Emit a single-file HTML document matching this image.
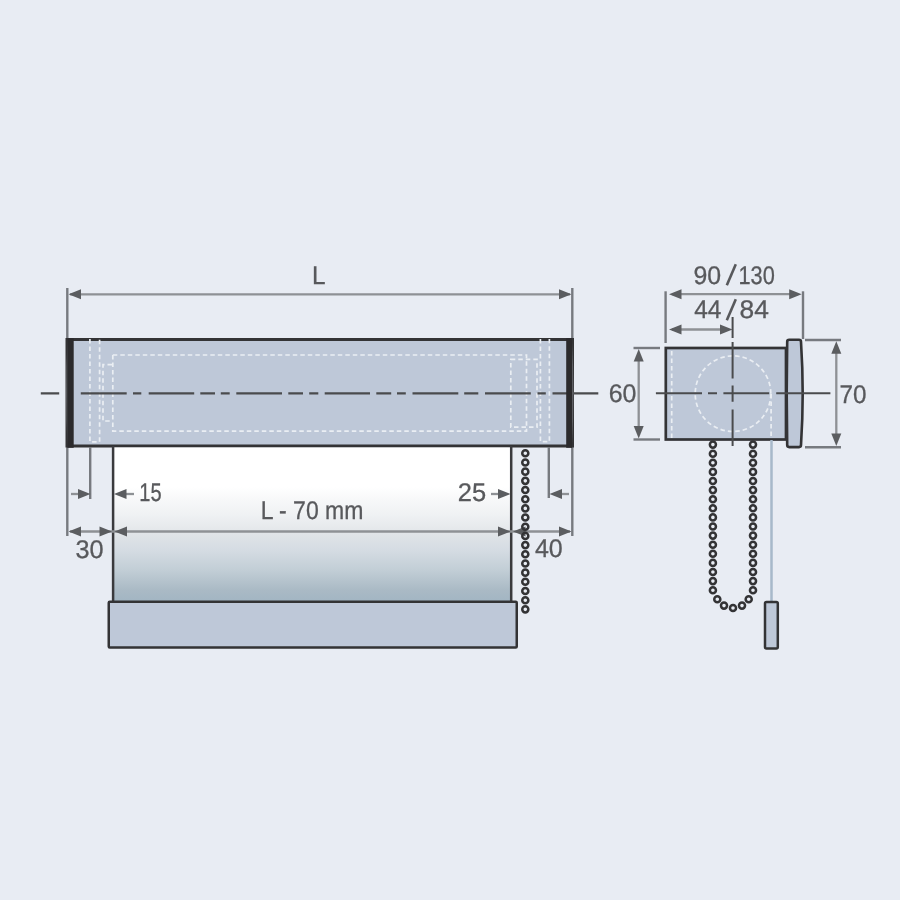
<!DOCTYPE html>
<html><head><meta charset="utf-8"><style>
html,body{margin:0;padding:0;background:#e8ecf3;}
svg{display:block;will-change:transform;text-rendering:geometricPrecision;}
text{font-family:"Liberation Sans", sans-serif;}
</style></head><body>
<svg width="900" height="900" viewBox="0 0 900 900">
<rect width="900" height="900" fill="#e8ecf3"/>
<line x1="67.30" y1="288.00" x2="67.30" y2="536.00" stroke="#777a7f" stroke-width="2.40" />
<line x1="572.30" y1="288.00" x2="572.30" y2="536.00" stroke="#777a7f" stroke-width="2.40" />
<line x1="70.00" y1="294.30" x2="570.00" y2="294.30" stroke="#8e9195" stroke-width="2.30" />
<polygon points="68.50,294.30 81.00,289.30 81.00,299.30" fill="#5b5d60"/>
<polygon points="571.50,294.30 559.00,289.30 559.00,299.30" fill="#5b5d60"/>
<rect x="67" y="339.5" width="505.5" height="106.5" fill="#bec8d8" stroke="#333335" stroke-width="3"/>
<path d="M89.9 339 V441.8 H99.6 V339" stroke="#eaeef3" stroke-width="1.7" stroke-dasharray="4.5 3" fill="none"/>
<path d="M112 364.7 H103 V421 H112" stroke="#eaeef3" stroke-width="1.7" stroke-dasharray="4.5 3" fill="none"/>
<rect x="112.8" y="355" width="413.7" height="76.1" stroke="#eaeef3" stroke-width="1.7" stroke-dasharray="4.5 3" fill="none"/>
<rect x="510.8" y="359.4" width="26.2" height="67.8" stroke="#eaeef3" stroke-width="1.7" stroke-dasharray="4.5 3" fill="none"/>
<path d="M540.4 339 V441.6 H549.4 V339" stroke="#eaeef3" stroke-width="1.7" stroke-dasharray="4.5 3" fill="none"/>
<path d="M40.8 393.3 H59.2 M80.8 393.3 H126.7 M133.0 393.3 H141.3 M148.7 393.3 H194.2 M200.3 393.3 H215.0 M220.8 393.3 H229.7 M236.3 393.3 H282.0 M288.3 393.3 H303.0 M309.2 393.3 H318.3 M324.7 393.3 H370.0 M376.3 393.3 H391.2 M397.0 393.3 H405.8 M412.5 393.3 H458.3 M464.2 393.3 H478.3 M485.0 393.3 H530.8 M537.5 393.3 H545.8 M552.5 393.3 H598.3" stroke="#4a4b4d" stroke-width="2.2" fill="none"/>
<path d="M67.6 338.2 Q64.6 393 67.6 447.8 Z" fill="#5d5e62"/>
<rect x="67.4" y="338.2" width="6.3" height="109.6" fill="#2b2a2c"/>
<path d="M571.8 338.2 Q575.2 393 571.8 447.8 Z" fill="#5d5e62"/>
<rect x="566.2" y="338.2" width="5.8" height="109.6" fill="#2b2a2c"/>
<defs><linearGradient id="fab" x1="0" y1="0" x2="0" y2="1">
<stop offset="0" stop-color="#ffffff"/><stop offset="0.256" stop-color="#ffffff"/>
<stop offset="0.341" stop-color="#f7f8f9"/><stop offset="0.438" stop-color="#eff1f3"/><stop offset="0.523" stop-color="#e6e9ec"/>
<stop offset="0.568" stop-color="#dfe3e7"/><stop offset="0.665" stop-color="#d5dce3"/><stop offset="0.795" stop-color="#c2ced6"/>
<stop offset="0.925" stop-color="#aabac5"/><stop offset="1" stop-color="#a2b5c3"/></linearGradient></defs>
<rect x="113" y="447.5" width="398" height="154" fill="url(#fab)"/>
<line x1="113.10" y1="446.00" x2="113.10" y2="602.00" stroke="#3a3a3d" stroke-width="2.50" />
<line x1="511.20" y1="446.00" x2="511.20" y2="602.00" stroke="#3a3a3d" stroke-width="2.50" />
<rect x="108.75" y="601.75" width="408" height="45.75" rx="1" fill="#bec8d8" stroke="#333335" stroke-width="2.5"/>
<line x1="90.20" y1="447.00" x2="90.20" y2="499.00" stroke="#777a7f" stroke-width="2.40" />
<line x1="548.80" y1="447.00" x2="548.80" y2="498.00" stroke="#777a7f" stroke-width="2.40" />
<line x1="71.00" y1="494.00" x2="80.00" y2="494.00" stroke="#8e9195" stroke-width="2.30" />
<polygon points="90.50,494.00 78.00,489.00 78.00,499.00" fill="#5b5d60"/>
<line x1="124.00" y1="494.00" x2="134.00" y2="494.00" stroke="#8e9195" stroke-width="2.30" />
<polygon points="114.00,494.00 126.50,489.00 126.50,499.00" fill="#5b5d60"/>
<line x1="491.00" y1="494.00" x2="500.00" y2="494.00" stroke="#8e9195" stroke-width="2.30" />
<polygon points="510.50,494.00 498.00,489.00 498.00,499.00" fill="#5b5d60"/>
<line x1="559.00" y1="494.00" x2="569.00" y2="494.00" stroke="#8e9195" stroke-width="2.30" />
<polygon points="549.50,494.00 562.00,489.00 562.00,499.00" fill="#5b5d60"/>
<line x1="70.00" y1="531.50" x2="570.00" y2="531.50" stroke="#8e9195" stroke-width="2.30" />
<polygon points="68.50,531.50 81.00,526.50 81.00,536.50" fill="#5b5d60"/>
<polygon points="112.00,531.50 99.50,526.50 99.50,536.50" fill="#5b5d60"/>
<polygon points="114.50,531.50 127.00,526.50 127.00,536.50" fill="#5b5d60"/>
<polygon points="510.50,531.50 498.00,526.50 498.00,536.50" fill="#5b5d60"/>
<polygon points="513.00,531.50 525.50,526.50 525.50,536.50" fill="#5b5d60"/>
<polygon points="571.50,531.50 559.00,526.50 559.00,536.50" fill="#5b5d60"/>
<circle cx="525.30" cy="453.30" r="3.05" fill="none" stroke="#333335" stroke-width="2.50"/>
<circle cx="525.30" cy="462.48" r="3.05" fill="none" stroke="#333335" stroke-width="2.50"/>
<circle cx="525.30" cy="471.66" r="3.05" fill="none" stroke="#333335" stroke-width="2.50"/>
<circle cx="525.30" cy="480.84" r="3.05" fill="none" stroke="#333335" stroke-width="2.50"/>
<circle cx="525.30" cy="490.02" r="3.05" fill="none" stroke="#333335" stroke-width="2.50"/>
<circle cx="525.30" cy="499.20" r="3.05" fill="none" stroke="#333335" stroke-width="2.50"/>
<circle cx="525.30" cy="508.38" r="3.05" fill="none" stroke="#333335" stroke-width="2.50"/>
<circle cx="525.30" cy="517.56" r="3.05" fill="none" stroke="#333335" stroke-width="2.50"/>
<circle cx="525.30" cy="526.74" r="3.05" fill="none" stroke="#333335" stroke-width="2.50"/>
<circle cx="525.30" cy="535.92" r="3.05" fill="none" stroke="#333335" stroke-width="2.50"/>
<circle cx="525.30" cy="545.10" r="3.05" fill="none" stroke="#333335" stroke-width="2.50"/>
<circle cx="525.30" cy="554.28" r="3.05" fill="none" stroke="#333335" stroke-width="2.50"/>
<circle cx="525.30" cy="563.46" r="3.05" fill="none" stroke="#333335" stroke-width="2.50"/>
<circle cx="525.30" cy="572.64" r="3.05" fill="none" stroke="#333335" stroke-width="2.50"/>
<circle cx="525.30" cy="581.82" r="3.05" fill="none" stroke="#333335" stroke-width="2.50"/>
<circle cx="525.30" cy="591.00" r="3.05" fill="none" stroke="#333335" stroke-width="2.50"/>
<circle cx="525.30" cy="600.18" r="3.05" fill="none" stroke="#333335" stroke-width="2.50"/>
<circle cx="525.30" cy="609.36" r="3.05" fill="none" stroke="#333335" stroke-width="2.50"/>
<line x1="665.60" y1="291.30" x2="665.60" y2="343.00" stroke="#777a7f" stroke-width="2.40" />
<line x1="803.00" y1="291.30" x2="803.00" y2="339.00" stroke="#777a7f" stroke-width="2.40" />
<line x1="672.00" y1="294.20" x2="798.00" y2="294.20" stroke="#8e9195" stroke-width="2.30" />
<polygon points="669.00,294.20 681.50,289.20 681.50,299.20" fill="#5b5d60"/>
<polygon points="801.70,294.20 789.20,289.20 789.20,299.20" fill="#5b5d60"/>
<line x1="672.00" y1="329.50" x2="729.00" y2="329.50" stroke="#8e9195" stroke-width="2.30" />
<polygon points="669.00,329.50 681.50,324.50 681.50,334.50" fill="#5b5d60"/>
<polygon points="732.50,329.50 720.00,324.50 720.00,334.50" fill="#5b5d60"/>
<rect x="665.8" y="348" width="120.2" height="91.5" fill="#bec8d8" stroke="#333335" stroke-width="2.7"/>
<line x1="671.7" y1="351" x2="671.7" y2="438" stroke="#eaeef3" stroke-width="1.7" stroke-dasharray="4.5 3" fill="none"/>
<circle cx="733" cy="393.7" r="37.8" stroke="#eaeef3" stroke-width="1.7" stroke-dasharray="4.5 3" fill="none"/>
<line x1="771.1" y1="394" x2="771.1" y2="438" stroke="#eaeef3" stroke-width="1.7" stroke-dasharray="4.5 3" fill="none"/>
<path d="M789.2 339.8 H799 Q801 339.8 801 341.8 Q804.4 393.5 801 445.1 Q801 447.1 799 447.1 H789.2 Q787.2 447.1 787.2 445.1 Q786.2 393.5 787.2 341.8 Q787.2 339.8 789.2 339.8 Z" fill="#bec8d8" stroke="#333335" stroke-width="2.6"/>
<path d="M655.9 393.2 H702 M708 393.2 H717 M723.4 393.2 H769.2 M776.2 393.2 H830.4" stroke="#4a4b4d" stroke-width="2" fill="none"/>
<path d="M732.6 317 V338 M732.6 341.9 V378.4 M732.6 385.4 V401.8 M732.6 409.5 V446" stroke="#4a4b4d" stroke-width="2" fill="none"/>
<line x1="633.50" y1="348.00" x2="660.00" y2="348.00" stroke="#777a7f" stroke-width="2.40" />
<line x1="633.50" y1="439.50" x2="660.00" y2="439.50" stroke="#777a7f" stroke-width="2.40" />
<line x1="638.70" y1="355.00" x2="638.70" y2="432.00" stroke="#8e9195" stroke-width="2.30" />
<polygon points="638.70,349.00 633.70,361.50 643.70,361.50" fill="#5b5d60"/>
<polygon points="638.70,438.50 633.70,426.00 643.70,426.00" fill="#5b5d60"/>
<line x1="805.00" y1="340.00" x2="841.00" y2="340.00" stroke="#777a7f" stroke-width="2.40" />
<line x1="805.00" y1="447.20" x2="841.00" y2="447.20" stroke="#777a7f" stroke-width="2.40" />
<line x1="836.30" y1="347.00" x2="836.30" y2="440.00" stroke="#8e9195" stroke-width="2.30" />
<polygon points="836.30,341.20 831.30,353.70 841.30,353.70" fill="#5b5d60"/>
<polygon points="836.30,446.00 831.30,433.50 841.30,433.50" fill="#5b5d60"/>
<line x1="771.50" y1="440.00" x2="771.50" y2="602.00" stroke="#a7b9ca" stroke-width="2.50" />
<rect x="765" y="602" width="12.8" height="46.5" rx="1.5" fill="#bec8d8" stroke="#333335" stroke-width="2.5"/>
<circle cx="712.90" cy="444.60" r="3.05" fill="none" stroke="#333335" stroke-width="2.50"/>
<circle cx="753.00" cy="444.60" r="3.05" fill="none" stroke="#333335" stroke-width="2.50"/>
<circle cx="712.90" cy="453.70" r="3.05" fill="none" stroke="#333335" stroke-width="2.50"/>
<circle cx="753.00" cy="453.70" r="3.05" fill="none" stroke="#333335" stroke-width="2.50"/>
<circle cx="712.90" cy="462.80" r="3.05" fill="none" stroke="#333335" stroke-width="2.50"/>
<circle cx="753.00" cy="462.80" r="3.05" fill="none" stroke="#333335" stroke-width="2.50"/>
<circle cx="712.90" cy="471.90" r="3.05" fill="none" stroke="#333335" stroke-width="2.50"/>
<circle cx="753.00" cy="471.90" r="3.05" fill="none" stroke="#333335" stroke-width="2.50"/>
<circle cx="712.90" cy="481.00" r="3.05" fill="none" stroke="#333335" stroke-width="2.50"/>
<circle cx="753.00" cy="481.00" r="3.05" fill="none" stroke="#333335" stroke-width="2.50"/>
<circle cx="712.90" cy="490.10" r="3.05" fill="none" stroke="#333335" stroke-width="2.50"/>
<circle cx="753.00" cy="490.10" r="3.05" fill="none" stroke="#333335" stroke-width="2.50"/>
<circle cx="712.90" cy="499.20" r="3.05" fill="none" stroke="#333335" stroke-width="2.50"/>
<circle cx="753.00" cy="499.20" r="3.05" fill="none" stroke="#333335" stroke-width="2.50"/>
<circle cx="712.90" cy="508.30" r="3.05" fill="none" stroke="#333335" stroke-width="2.50"/>
<circle cx="753.00" cy="508.30" r="3.05" fill="none" stroke="#333335" stroke-width="2.50"/>
<circle cx="712.90" cy="517.40" r="3.05" fill="none" stroke="#333335" stroke-width="2.50"/>
<circle cx="753.00" cy="517.40" r="3.05" fill="none" stroke="#333335" stroke-width="2.50"/>
<circle cx="712.90" cy="526.50" r="3.05" fill="none" stroke="#333335" stroke-width="2.50"/>
<circle cx="753.00" cy="526.50" r="3.05" fill="none" stroke="#333335" stroke-width="2.50"/>
<circle cx="712.90" cy="535.60" r="3.05" fill="none" stroke="#333335" stroke-width="2.50"/>
<circle cx="753.00" cy="535.60" r="3.05" fill="none" stroke="#333335" stroke-width="2.50"/>
<circle cx="712.90" cy="544.70" r="3.05" fill="none" stroke="#333335" stroke-width="2.50"/>
<circle cx="753.00" cy="544.70" r="3.05" fill="none" stroke="#333335" stroke-width="2.50"/>
<circle cx="712.90" cy="553.80" r="3.05" fill="none" stroke="#333335" stroke-width="2.50"/>
<circle cx="753.00" cy="553.80" r="3.05" fill="none" stroke="#333335" stroke-width="2.50"/>
<circle cx="712.90" cy="562.90" r="3.05" fill="none" stroke="#333335" stroke-width="2.50"/>
<circle cx="753.00" cy="562.90" r="3.05" fill="none" stroke="#333335" stroke-width="2.50"/>
<circle cx="712.90" cy="572.00" r="3.05" fill="none" stroke="#333335" stroke-width="2.50"/>
<circle cx="753.00" cy="572.00" r="3.05" fill="none" stroke="#333335" stroke-width="2.50"/>
<circle cx="712.90" cy="581.10" r="3.05" fill="none" stroke="#333335" stroke-width="2.50"/>
<circle cx="753.00" cy="581.10" r="3.05" fill="none" stroke="#333335" stroke-width="2.50"/>
<circle cx="712.90" cy="590.20" r="3.05" fill="none" stroke="#333335" stroke-width="2.50"/>
<circle cx="753.00" cy="590.20" r="3.05" fill="none" stroke="#333335" stroke-width="2.50"/>
<circle cx="717.30" cy="599.30" r="3.05" fill="none" stroke="#333335" stroke-width="2.50"/>
<circle cx="724.00" cy="605.60" r="3.05" fill="none" stroke="#333335" stroke-width="2.50"/>
<circle cx="733.00" cy="608.00" r="3.05" fill="none" stroke="#333335" stroke-width="2.50"/>
<circle cx="742.00" cy="605.60" r="3.05" fill="none" stroke="#333335" stroke-width="2.50"/>
<circle cx="748.70" cy="599.30" r="3.05" fill="none" stroke="#333335" stroke-width="2.50"/>
<text x="312.03" y="283.86" font-size="25.47" textLength="13.52" lengthAdjust="spacingAndGlyphs" fill="#58595c" stroke="#58595c" stroke-width="0.3">L</text>
<text x="139.28" y="500.95" font-size="25.47" textLength="22.27" lengthAdjust="spacingAndGlyphs" fill="#58595c" stroke="#58595c" stroke-width="0.3">15</text>
<text x="457.81" y="500.81" font-size="25.47" textLength="28.36" lengthAdjust="spacingAndGlyphs" fill="#58595c" stroke="#58595c" stroke-width="0.3">25</text>
<text x="260.71" y="518.70" font-size="25.47" textLength="102.74" lengthAdjust="spacingAndGlyphs" fill="#58595c" stroke="#58595c" stroke-width="0.3">L - 70 mm</text>
<text x="75.49" y="558.10" font-size="25.47" textLength="28.12" lengthAdjust="spacingAndGlyphs" fill="#58595c" stroke="#58595c" stroke-width="0.3">30</text>
<text x="534.98" y="557.47" font-size="25.47" textLength="27.82" lengthAdjust="spacingAndGlyphs" fill="#58595c" stroke="#58595c" stroke-width="0.3">40</text>
<text x="693.55" y="283.63" font-size="25.47" textLength="27.67" lengthAdjust="spacingAndGlyphs" fill="#58595c" stroke="#58595c" stroke-width="0.3">90</text>
<text x="738.53" y="283.67" font-size="25.47" textLength="36.32" lengthAdjust="spacingAndGlyphs" fill="#58595c" stroke="#58595c" stroke-width="0.3">130</text>
<text x="694.18" y="318.20" font-size="25.47" textLength="27.30" lengthAdjust="spacingAndGlyphs" fill="#58595c" stroke="#58595c" stroke-width="0.3">44</text>
<text x="739.63" y="318.25" font-size="25.47" textLength="29.33" lengthAdjust="spacingAndGlyphs" fill="#58595c" stroke="#58595c" stroke-width="0.3">84</text>
<text x="608.69" y="402.04" font-size="25.47" textLength="27.77" lengthAdjust="spacingAndGlyphs" fill="#58595c" stroke="#58595c" stroke-width="0.3">60</text>
<text x="839.60" y="402.81" font-size="25.47" textLength="26.99" lengthAdjust="spacingAndGlyphs" fill="#58595c" stroke="#58595c" stroke-width="0.3">70</text>
<line x1="726.80" y1="285.30" x2="735.80" y2="264.30" stroke="#58595c" stroke-width="2.60" />
<line x1="726.80" y1="320.30" x2="735.80" y2="299.30" stroke="#58595c" stroke-width="2.60" />
</svg></body></html>
